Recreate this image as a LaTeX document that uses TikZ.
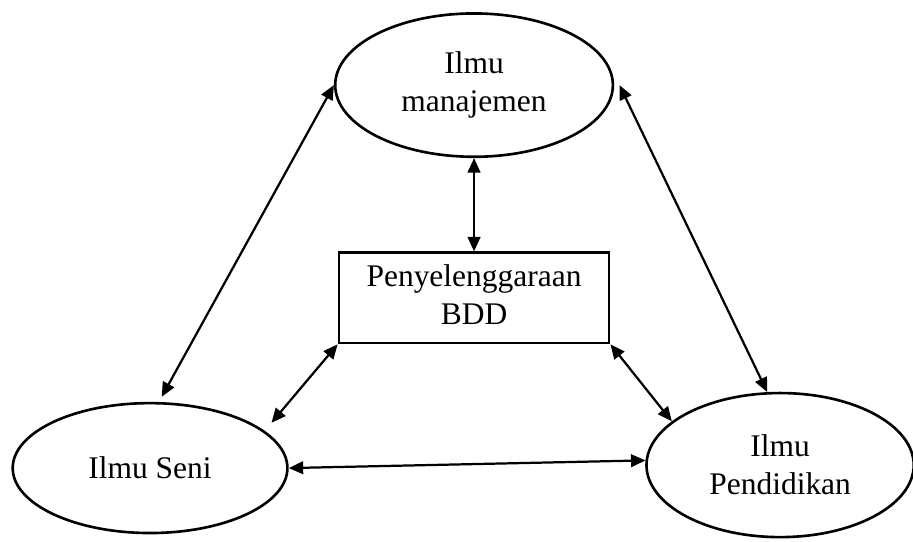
\documentclass[tikz,border=0pt]{standalone}
\usepackage{fontspec}
\setmainfont{Liberation Serif}
\usepackage{tikz}
\usetikzlibrary{positioning,arrows.meta,shapes.geometric}

\begin{document}
\begin{tikzpicture}[
        bidir/.style={{Triangle[length=5.5pt,width=4.8pt]}-{Triangle[length=5.5pt,width=4.8pt]}, line width=0.85pt},
        bidang/.style={ellipse, draw, line width=1pt, inner sep=0pt, align=center},
        kotak/.style={rectangle, draw, line width=1pt, inner sep=0pt, align=center}
    ]
        \useasboundingbox (0,0) rectangle (12.23,7.26);
        \fontsize{12}{14.5}\selectfont

        % Three fields of knowledge
        \node[bidang, minimum width=3.72cm, minimum height=1.92cm] (manajemen) at (6.35,6.12) {Ilmu\\manajemen};
        \node[bidang, minimum width=3.68cm, minimum height=1.74cm] (seni) at (2.01,0.99) {Ilmu Seni};
        \node[bidang, minimum width=3.58cm, minimum height=1.93cm] (pendidikan) at (10.45,1.03) {Ilmu\\Pendidikan};

        % Centre box
        \node[kotak, minimum width=3.62cm, minimum height=1.21cm] (bdd) at (6.35,3.27) {\raisebox{-2pt}{\begin{tabular}{@{}c@{}}Penyelenggaraan\\BDD\end{tabular}}};

        % Outer triangle
        \draw[bidir] (manajemen.west) -- ([yshift=2pt]seni.80);
        \draw[bidir] ([xshift=2pt]manajemen.east) -- (pendidikan.100);
        \draw[bidir] (seni.east) -- (pendidikan.178);

        % Links to the centre
        \draw[bidir] (manajemen.south) -- (bdd.north);
        \draw[bidir, shorten >=4pt] (bdd.south west) -- (seni.18.5);
        \draw[bidir] (bdd.south east) -- (pendidikan.158);
    \end{tikzpicture}
\end{document}
